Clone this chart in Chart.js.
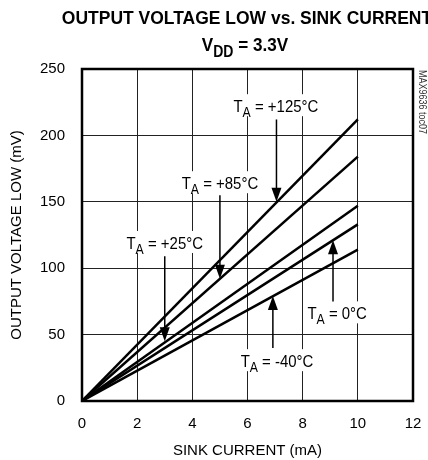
<!DOCTYPE html>
<html>
<head>
<meta charset="utf-8">
<script src="https://cdn.jsdelivr.net/npm/chart.js@4.4.1/dist/chart.umd.min.js"></script>
<style>
  html, body { margin: 0; padding: 0; background: #fff; }
  #wrap { width: 428px; height: 460px; }
</style>
</head>
<body>
<div id="wrap"><canvas id="myChart" width="428" height="460"></canvas></div>
<script>
// sink current (mA) where each curve was read
const corriente = [0, 10]
// output voltage low (mV) per temperature
const v125 = [0, 212]
const v85 = [0, 184]
const v25 = [0, 147]
const v0 = [0, 133]
const vm40 = [0, 114]

const xTicks = [0, 2, 4, 6, 8, 10, 12]
const yTicks = [0, 50, 100, 150, 200, 250]

const FONT = '"Liberation Sans", Arial, sans-serif'

const serie = (vals) => corriente.map((c, i) => ({ x: c, y: vals[i] }))

// condensed text with subscripts: parts = [[text, isSub], ...]
const drawSub = (ctx, parts, x, y, size, bold, sx) => {
    const f = (s) => (bold ? 'bold ' : '') + s + 'px ' + FONT
    let total = 0
    for (const [t, sub] of parts) {
        ctx.font = f(sub ? size * 0.82 : size)
        total += ctx.measureText(t).width * sx
    }
    let cx = x - total / 2
    ctx.textAlign = 'left'
    ctx.textBaseline = 'alphabetic'
    for (const [t, sub] of parts) {
        ctx.font = f(sub ? size * 0.82 : size)
        ctx.save()
        ctx.translate(cx, sub ? y + size * 0.3 : y)
        ctx.scale(sx, 1)
        ctx.fillText(t, 0, 0)
        ctx.restore()
        cx += ctx.measureText(t).width * sx
    }
    return total
}

const etiquetas = [
    { temp: '+125°C', tx: 7.03, ty: 222, ax: 7.05, from: 212, to: 150 },
    { temp: '+85°C', tx: 5.0, ty: 164, ax: 5.0, from: 155, to: 92 },
    { temp: '+25°C', tx: 3.0, ty: 119, ax: 3.0, from: 109, to: 45 },
    { temp: '0°C', tx: 9.25, ty: 66, ax: 9.1, from: 75, to: 121 },
    { temp: '-40°C', tx: 7.07, ty: 30, ax: 6.92, from: 40, to: 79 }
]

const dibujos = {
    id: 'dibujos',
    afterDatasetsDraw(chart) {
        const ctx = chart.ctx
        const xs = chart.scales.x
        const ys = chart.scales.y
        const a = chart.chartArea
        ctx.save()
        ctx.fillStyle = '#000'
        ctx.strokeStyle = '#000'
        // labels with white box and arrows
        for (const e of etiquetas) {
            const px = xs.getPixelForValue(e.tx)
            const py = ys.getPixelForValue(e.ty)
            const parts = [['T', false], ['A', true], [' = ' + e.temp, false]]
            let w = 0
            for (const [t, sub] of parts) {
                ctx.font = (sub ? 14 : 17) + 'px ' + FONT
                w += ctx.measureText(t).width * 0.88
            }
            ctx.fillStyle = '#fff'
            ctx.fillRect(px - w / 2 - 2, py - 12, w + 4, 22)
            ctx.fillStyle = '#000'
            drawSub(ctx, parts, px, py + 6, 17, false, 0.88)

            const ax = xs.getPixelForValue(e.ax)
            const y1 = ys.getPixelForValue(e.from)
            const y2 = ys.getPixelForValue(e.to)
            const dir = y2 > y1 ? 1 : -1
            ctx.lineWidth = 1.5
            ctx.beginPath()
            ctx.moveTo(ax, y1)
            ctx.lineTo(ax, y2 - dir * 10)
            ctx.stroke()
            ctx.beginPath()
            ctx.moveTo(ax, y2)
            ctx.lineTo(ax - 5, y2 - dir * 14)
            ctx.lineTo(ax + 5, y2 - dir * 14)
            ctx.closePath()
            ctx.fill()
        }
        // frame
        ctx.lineWidth = 2.5
        ctx.strokeRect(a.left, a.top, a.right - a.left, a.bottom - a.top)

        // title
        drawSub(ctx, [['OUTPUT VOLTAGE LOW vs. SINK CURRENT', false]], 247, 24, 19, true, 0.92)
        drawSub(ctx, [['V', false], ['DD', true], [' = 3.3V', false]], 245, 51, 19, true, 0.9)

        // part code
        ctx.save()
        ctx.translate(a.right + 6, a.top + 1)
        ctx.rotate(Math.PI / 2)
        ctx.scale(0.9, 1)
        ctx.font = '10px ' + FONT
        ctx.fillStyle = '#333'
        ctx.textAlign = 'left'
        ctx.textBaseline = 'middle'
        ctx.fillText('MAX9636 toc07', 0, -3)
        ctx.restore()
        ctx.restore()
    }
}

const linea = (vals) => ({
    data: serie(vals),
    showLine: true,
    borderColor: '#000',
    borderWidth: 2.5,
    pointRadius: 0,
    fill: false
})

new Chart(document.getElementById('myChart'), {
    type: 'scatter',
    data: {
        datasets: [linea(v125), linea(v85), linea(v25), linea(v0), linea(vm40)]
    },
    options: {
        responsive: false,
        animation: false,
        layout: { padding: { top: 69, right: 15, left: 0, bottom: 0 } },
        plugins: { legend: { display: false }, tooltip: { enabled: false } },
        scales: {
            x: {
                type: 'linear',
                min: xTicks[0],
                max: xTicks[xTicks.length - 1],
                afterBuildTicks: (s) => { s.ticks = xTicks.map(v => ({ value: v })) },
                afterFit: (s) => { s.height = 59; s.paddingLeft = 0; s.paddingRight = 0 },
                grid: { color: '#222', lineWidth: 1, drawTicks: false },
                border: { display: false },
                ticks: { color: '#000', padding: 14, font: { family: FONT, size: 15 } },
                title: { display: true, text: 'SINK CURRENT (mA)', color: '#000', padding: { top: 2, bottom: 0 }, font: { family: FONT, size: 15 } }
            },
            y: {
                type: 'linear',
                min: yTicks[0],
                max: yTicks[yTicks.length - 1],
                afterBuildTicks: (s) => { s.ticks = yTicks.map(v => ({ value: v })) },
                afterFit: (s) => { s.width = 82; s.paddingTop = 0; s.paddingBottom = 0 },
                grid: { color: '#222', lineWidth: 1, drawTicks: false },
                border: { display: false },
                ticks: { color: '#000', padding: 17, font: { family: FONT, size: 15 } },
                title: { display: true, text: 'OUTPUT VOLTAGE LOW (mV)', color: '#000', padding: { top: 8, bottom: 0 }, font: { family: FONT, size: 15 } }
            }
        }
    },
    plugins: [dibujos]
})
</script>
</body>
</html>
